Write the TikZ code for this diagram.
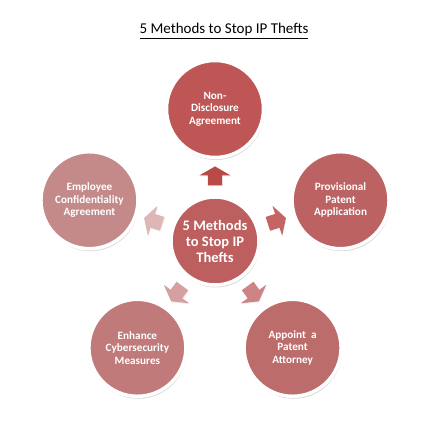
\documentclass[tikz,border=0pt]{standalone}
\usepackage{fontspec}
\setmainfont{Carlito}
\usetikzlibrary{shapes.arrows,shadows,positioning}
\definecolor{hubred}{RGB}{189,94,95}
\definecolor{roseA}{RGB}{190,86,85}
\definecolor{roseB}{RGB}{189,98,98}
\definecolor{roseC}{RGB}{189,108,108}
\definecolor{roseD}{RGB}{192,122,122}
\definecolor{roseE}{RGB}{196,138,138}
\definecolor{arrA}{RGB}{184,74,72}
\definecolor{arrB}{RGB}{196,100,100}
\definecolor{arrC}{RGB}{206,132,132}
\definecolor{arrD}{RGB}{214,160,160}
\definecolor{arrE}{RGB}{221,182,182}
\tikzset{disc/.style={circle,draw=white,line width=3.5pt,minimum size=97pt,inner sep=0,align=center,
    text=white,font=\bfseries\fontsize{11.2}{12.6}\selectfont,
    drop shadow={shadow xshift=1pt,shadow yshift=-2.5pt,opacity=0.3}},
  hubdisc/.style={disc,minimum size=88pt,font=\bfseries\fontsize{14.5}{16}\selectfont},
  blk/.style={single arrow,draw=none,minimum height=19pt,inner xsep=0,inner ysep=7pt,
    single arrow head extend=8.5pt,single arrow tip angle=120,
    drop shadow={shadow xshift=0.5pt,shadow yshift=-1pt,opacity=0.15}}}

\begin{document}
\begin{tikzpicture}[x=1pt,y=1pt]
 \useasboundingbox (-215,-193) rectangle (217,241);
 \node[font=\fontsize{15}{18}\selectfont] (title) at (9,210) {\underline{5 Methods to Stop IP Thefts}};
 \node[hubdisc,fill=hubred] (hub) at (0,0) {5 Methods\\to Stop IP\\Thefts};
 \foreach \a/\c/\t/\n in {90/roseA/{Non-\\Disclosure\\Agreement}/nda,
   18/roseB/{Provisional\\Patent\\Application}/ppa,
   -54/roseC/{Appoint\ \ a\\Patent\\Attorney}/atty,
   -126/roseD/{Enhance\\Cybersecurity\\Measures}/cyber,
   162/roseE/{Employee\\Confidentiality\\Agreement}/eca}{
   \node[disc,fill=\c] (\n) at (\a:132) {\t};}
 \foreach \a/\c/\n in {90/arrA/up,18/arrB/right,-54/arrC/downright,-126/arrD/downleft,162/arrE/left}{
   \node[blk,fill=\c,rotate=\a] (\n) at (\a:63) {};}
\end{tikzpicture}
\end{document}
